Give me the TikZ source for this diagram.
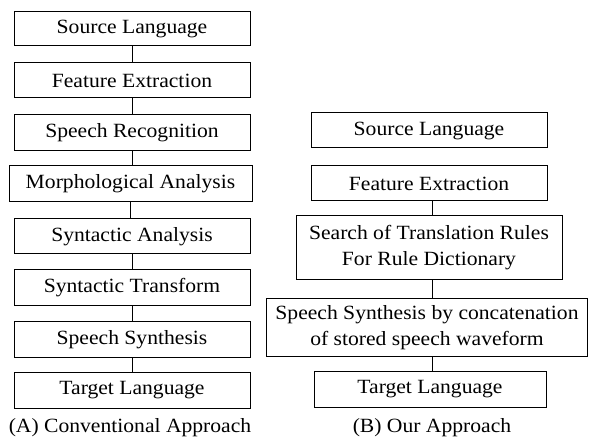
\documentclass[tikz,border=0pt]{standalone}
\usepackage{fontspec}
\setmainfont{Liberation Serif}[FakeStretch=1.07]
\begin{document}
\begin{tikzpicture}[x=1pt,y=-1pt,
  box/.style={draw,line width=1pt,inner sep=0pt,align=center,font=\fontsize{20.2}{26}\selectfont},
  captext/.style={inner sep=0pt,font=\fontsize{20.2}{26}\selectfont},
  conn/.style={line width=1pt}]
\useasboundingbox (0,0) rectangle (589,438);
% left column
\node[box,minimum width=236,minimum height=34] (a1) at (132,29) {Source Language};
\node[box,minimum width=236,minimum height=35] (a2) at (132,80.5) {Feature Extraction};
\node[box,minimum width=236,minimum height=36] (a3) at (132,133) {Speech Recognition};
\node[box,minimum width=243,minimum height=36] (a4) at (130.5,184) {Morphological Analysis};
\node[box,minimum width=236,minimum height=35] (a5) at (132,236.5) {Syntactic Analysis};
\node[box,minimum width=236,minimum height=36] (a6) at (132,288) {Syntactic Transform};
\node[box,minimum width=236,minimum height=35] (a7) at (132,339.5) {Speech Synthesis};
\node[box,minimum width=236,minimum height=36] (a8) at (132,390) {Target Language};
\node[captext] (ca) at (130,428) {(A) Conventional Approach};
\foreach \i/\j in {a1/a2,a2/a3,a3/a4,a4/a5,a5/a6,a6/a7,a7/a8}
  \draw[conn] (\i.south) -- (\i.south |- \j.north);
% right column
\node[box,minimum width=236,minimum height=35] (b1) at (429,130.5) {Source Language};
\node[box,minimum width=236,minimum height=35] (b2) at (429,183.5) {Feature Extraction};
\node[box,minimum width=266,minimum height=64] (b3) at (429,248) {Search of Translation Rules\\For Rule Dictionary};
\node[box,minimum width=321,minimum height=57] (b4) at (427,327.5) {Speech Synthesis by concatenation\\of stored speech waveform};
\node[box,minimum width=232,minimum height=36] (b5) at (430,389) {Target Language};
\node[captext] (cb) at (432,428) {(B) Our Approach};
\coordinate (bx) at (432,0);
\foreach \i/\j in {b2/b3,b3/b4,b4/b5}
  \draw[conn] (bx |- \i.south) -- (bx |- \j.north);
\end{tikzpicture}
\end{document}
